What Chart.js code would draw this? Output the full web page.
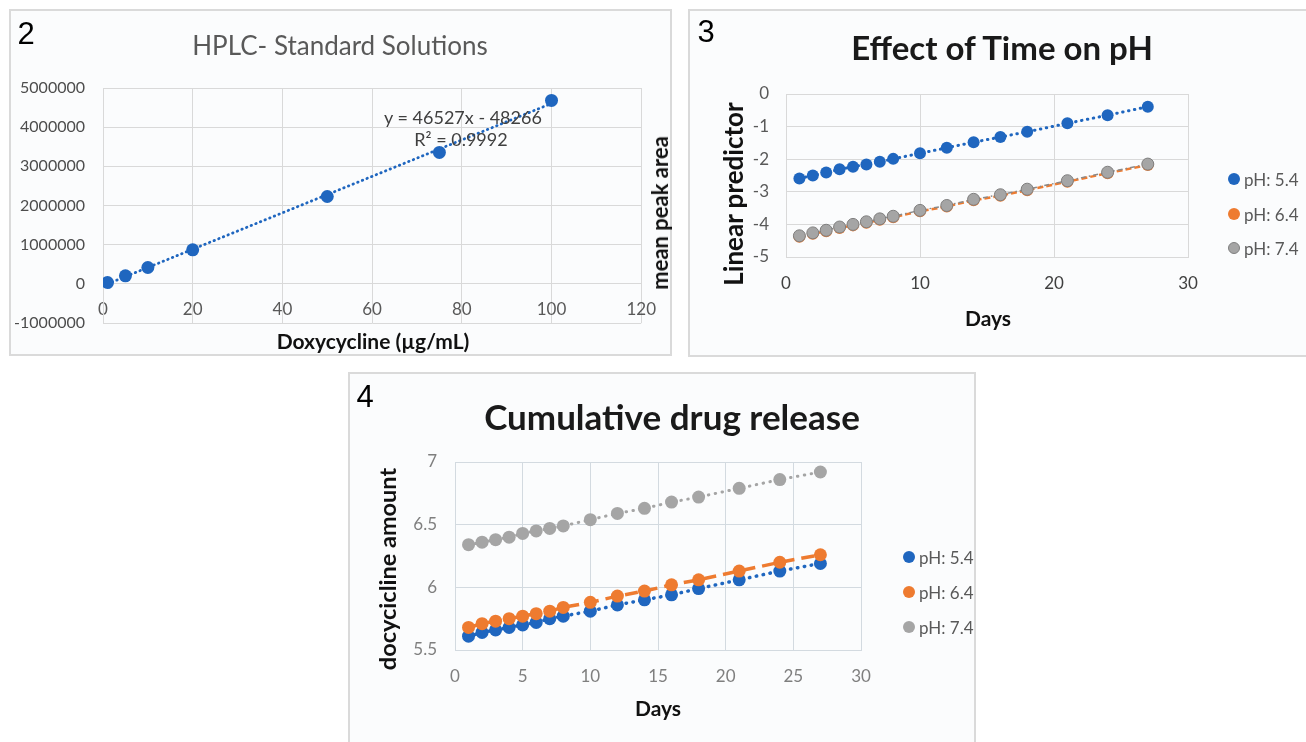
<!DOCTYPE html>
<html>
<head>
<meta charset="utf-8">
<script src="https://cdn.jsdelivr.net/npm/chart.js@4.4.1/dist/chart.umd.min.js"></script>
<style>
  body { margin: 0; width: 1306px; height: 742px; background: #fff; position: relative; overflow: hidden; font-family: Lato, sans-serif; }
  .panel { position: absolute; box-sizing: border-box; border: 2px solid #dadada; background: #fbfcfd; }
  canvas { position: absolute; }
  .txt { position: absolute; transform: translate(-50%, -50%); white-space: nowrap; line-height: 1; }
  .rot { transform: translate(-50%, -50%) rotate(-90deg); }
  .num { font-family: "Liberation Sans", Arial, sans-serif; font-size: 31px; color: #000; }
  .axt { font-weight: bold; color: #111; }
  .leg { position: absolute; font-size: 17px; color: #595959; white-space: nowrap; line-height: 1; transform: translateY(-50%); }
  .dot { position: absolute; width: 12px; height: 12px; border-radius: 50%; box-sizing: border-box; transform: translate(-50%, -50%); }
</style>
</head>
<body>
<div class="panel" style="left:9px;top:9px;width:663px;height:347px"></div>
<div class="panel" style="left:688px;top:9px;width:640px;height:348px"></div>
<div class="panel" style="left:348px;top:372px;width:628px;height:400px"></div>

<canvas id="c2" width="661" height="344" style="left:10px;top:10px"></canvas>
<canvas id="c3" width="617" height="345" style="left:689px;top:10px"></canvas>
<canvas id="c4" width="626" height="369" style="left:349px;top:373px"></canvas>

<!-- panel 2 -->
<div class="txt num" style="left:26px;top:33px">2</div>
<div class="txt" style="left:340px;top:45px;font-size:26px;color:#595959">HPLC- Standard Solutions</div>
<div class="txt" style="left:463px;top:117px;font-size:18px;color:#404040">y = 46527x - 48266</div>
<div class="txt" style="left:461px;top:139px;font-size:18px;color:#404040">R² = 0.9992</div>
<div class="txt axt" style="left:373px;top:340px;font-size:21px">Doxycycline (µg/mL)</div>
<div class="txt axt rot" style="left:660px;top:213px;font-size:22px">mean peak area</div>

<!-- panel 3 -->
<div class="txt num" style="left:706px;top:31px">3</div>
<div class="txt" style="left:1002px;top:47px;font-size:33px;font-weight:bold;color:#1a1a1a">Effect of Time on pH</div>
<div class="txt axt rot" style="left:733px;top:194px;font-size:26px">Linear predictor</div>
<div class="txt axt" style="left:988px;top:317px;font-size:21px">Days</div>

<!-- panel 4 -->
<div class="txt num" style="left:365px;top:396px">4</div>
<div class="txt" style="left:672px;top:416px;font-size:35px;font-weight:bold;color:#1a1a1a">Cumulative drug release</div>
<div class="txt axt rot" style="left:388px;top:569px;font-size:23.5px">docycicline amount</div>
<div class="txt axt" style="left:658px;top:707px;font-size:21px">Days</div>

<script>
// HPLC standard solutions
const conc = [1, 5, 10, 20, 50, 75, 100]
const peakArea = [33000, 204000, 417000, 869000, 2230000, 3355000, 4683000]
// trendline end points (y = 46527x - 48266)
const trendX = [1, 100]
const trendY = [-1739, 4604434]

// shared day axis for charts 3 and 4
const days = [1, 2, 3, 4, 5, 6, 7, 8, 10, 12, 14, 16, 18, 21, 24, 27]
const phLabels = ['pH: 5.4', 'pH: 6.4', 'pH: 7.4']

// Effect of time on pH
const predictor54 = [-2.59, -2.50, -2.41, -2.31, -2.23, -2.16, -2.08, -1.99, -1.82, -1.65, -1.48, -1.32, -1.16, -0.90, -0.65, -0.39]
const predictor64 = [-4.38, -4.29, -4.21, -4.11, -4.03, -3.95, -3.86, -3.78, -3.60, -3.45, -3.26, -3.12, -2.95, -2.69, -2.43, -2.18]
const predictor74 = [-4.35, -4.26, -4.18, -4.08, -4.00, -3.92, -3.83, -3.75, -3.57, -3.42, -3.23, -3.09, -2.92, -2.66, -2.40, -2.15]

// Cumulative drug release
const release54 = [5.61, 5.64, 5.66, 5.68, 5.70, 5.72, 5.75, 5.77, 5.81, 5.86, 5.90, 5.94, 5.99, 6.06, 6.13, 6.19]
const release64 = [5.68, 5.71, 5.73, 5.75, 5.77, 5.79, 5.81, 5.84, 5.88, 5.93, 5.97, 6.02, 6.06, 6.13, 6.20, 6.26]
const release74 = [6.34, 6.36, 6.38, 6.40, 6.43, 6.45, 6.47, 6.49, 6.54, 6.59, 6.63, 6.68, 6.72, 6.79, 6.86, 6.92]

const blue = '#1f66bf'
const orange = '#ee7b30'
const grey = '#a5a5a5'

Chart.defaults.font.family = 'Lato'

const pts = (xs, ys) => xs.map((x, i) => ({ x: x, y: ys[i] }))

const base = {
  responsive: false,
  animation: false,
  devicePixelRatio: 1,
  plugins: { legend: { display: false }, tooltip: { enabled: false } }
}

// chart 2
new Chart(document.getElementById('c2'), {
  type: 'scatter',
  data: {
    datasets: [
      { data: pts(conc, peakArea), backgroundColor: blue, borderColor: blue, pointRadius: 6.5, pointBorderWidth: 0 },
      { data: pts(trendX, trendY), showLine: true, borderColor: blue, borderWidth: 2.8,
        borderDash: [0.5, 4.5], borderCapStyle: 'round', pointRadius: 0 }
    ]
  },
  options: {
    ...base,
    layout: { padding: { left: 3, right: 27, top: 78, bottom: 31 } },
    scales: {
      x: {
        type: 'linear', position: { y: 0 }, min: 0, max: 120,
        ticks: { stepSize: 20, padding: 15, color: '#595959', font: { size: 17 } },
        grid: { color: '#d9d9d9', drawTicks: false },
        border: { color: '#d9d9d9' },
        afterFit: (s) => { s.height = 0 }
      },
      y: {
        min: -1000000, max: 5000000,
        ticks: { stepSize: 1000000, padding: 18, color: '#4d4d4d', font: { size: 16 }, callback: (v) => String(v) },
        grid: { color: '#d9d9d9', drawTicks: false },
        border: { color: '#d9d9d9' },
        afterFit: (s) => { s.width = 90 }
      }
    }
  }
})

// chart 3
new Chart(document.getElementById('c3'), {
  type: 'scatter',
  data: {
    datasets: [
      { label: phLabels[0], data: pts(days, predictor54), order: 2, showLine: true,
        borderColor: blue, backgroundColor: blue, borderWidth: 3, borderDash: [0.5, 5.5], borderCapStyle: 'round',
        pointRadius: 6, pointBorderWidth: 0 },
      { label: phLabels[1], data: pts(days, predictor64), order: 1, showLine: true,
        borderColor: orange, backgroundColor: orange, borderWidth: 2.5, borderDash: [6, 3],
        pointRadius: 6, pointBorderWidth: 0 },
      { label: phLabels[2], data: pts(days, predictor74), order: 0, showLine: true,
        borderColor: '#8a8a8a', backgroundColor: grey, borderWidth: 1.5, borderDash: [5, 3, 1.5, 3],
        pointRadius: 6, pointBorderColor: '#7f7f7f', pointBorderWidth: 1 }
    ]
  },
  options: {
    ...base,
    layout: { padding: { left: 17, right: 118, top: 84, bottom: 58 } },
    scales: {
      x: {
        min: 0, max: 30,
        ticks: { stepSize: 10, padding: 16, color: '#404040', font: { size: 17 } },
        grid: { color: '#d9d9d9', drawTicks: false },
        border: { color: '#d9d9d9' },
        afterFit: (s) => { s.height = 40 }
      },
      y: {
        min: -5, max: 0,
        ticks: { stepSize: 1, padding: 17, color: '#595959', font: { size: 17 } },
        grid: { color: '#d9d9d9', drawTicks: false },
        border: { color: '#d9d9d9' },
        afterFit: (s) => { s.width = 80 }
      }
    }
  }
})

// chart 4
new Chart(document.getElementById('c4'), {
  type: 'scatter',
  data: {
    datasets: [
      { label: phLabels[0], data: pts(days, release54), order: 2, showLine: true,
        borderColor: blue, backgroundColor: blue, borderWidth: 3.5, borderDash: [0.5, 6.5], borderCapStyle: 'round',
        pointRadius: 6.5, pointBorderWidth: 0 },
      { label: phLabels[1], data: pts(days, release64), order: 1, showLine: true,
        borderColor: orange, backgroundColor: orange, borderWidth: 3.5, borderDash: [13, 7],
        pointRadius: 6.5, pointBorderWidth: 0 },
      { label: phLabels[2], data: pts(days, release74), order: 0, showLine: true,
        borderColor: grey, backgroundColor: grey, borderWidth: 3, borderDash: [0.5, 6.5], borderCapStyle: 'round',
        pointRadius: 6.5, pointBorderWidth: 0 }
    ]
  },
  options: {
    ...base,
    layout: { padding: { left: 26, right: 114, top: 89, bottom: 52 } },
    scales: {
      x: {
        min: 0, max: 30,
        ticks: { stepSize: 5, padding: 16, color: '#7f7f7f', font: { size: 17 } },
        grid: { color: '#d3dae0', drawTicks: false },
        border: { color: '#d3dae0' },
        afterFit: (s) => { s.height = 40 }
      },
      y: {
        min: 5.5, max: 7,
        ticks: { stepSize: 0.5, padding: 18, color: '#7f7f7f', font: { size: 17 }, callback: (v) => String(v) },
        grid: { color: '#d3dae0', drawTicks: false },
        border: { color: '#d3dae0' },
        afterFit: (s) => { s.width = 80 }
      }
    }
  }
})

// legends for charts 3 and 4
function legenda(x, ys, fills, borders) {
  phLabels.forEach((label, i) => {
    const dot = document.createElement('div')
    dot.className = 'dot'
    dot.style.left = x + 'px'
    dot.style.top = ys[i] + 'px'
    dot.style.background = fills[i]
    if (borders[i]) dot.style.border = '1px solid ' + borders[i]
    document.body.appendChild(dot)
    const txt = document.createElement('div')
    txt.className = 'leg'
    txt.style.left = (x + 10) + 'px'
    txt.style.top = ys[i] + 'px'
    txt.innerText = label
    document.body.appendChild(txt)
  })
}

legenda(1234, [179, 214, 248], [blue, orange, grey], [null, null, '#7f7f7f'])
legenda(909, [557, 592, 627], [blue, orange, grey], [null, null, null])
</script>
</body>
</html>
